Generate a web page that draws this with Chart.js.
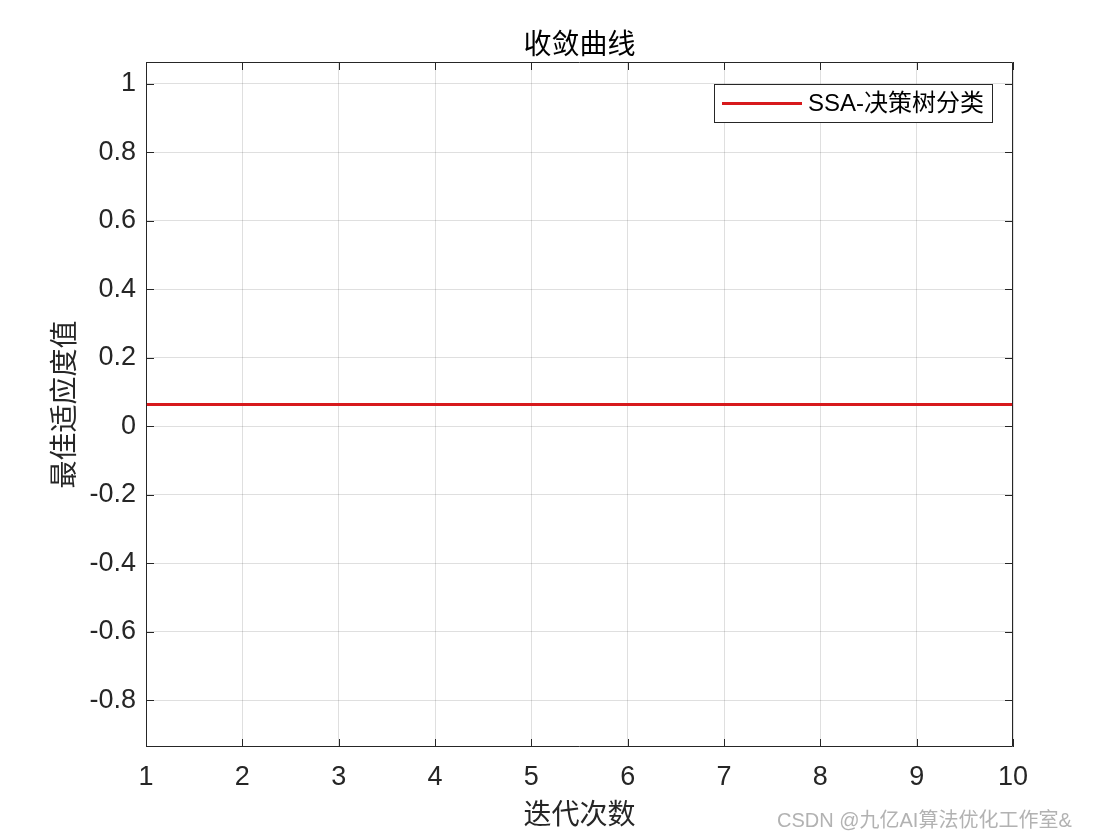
<!DOCTYPE html>
<html>
<head>
<meta charset="utf-8">
<script src="https://cdn.jsdelivr.net/npm/chart.js@4/dist/chart.umd.min.js"></script>
<style>
  body { margin: 0; background: #fff; }
</style>
</head>
<body>
<canvas id="convChart" width="1120" height="840"></canvas>
<script>
// iterations and best fitness per iteration (flat line)
var iterations = [1, 2, 3, 4, 5, 6, 7, 8, 9, 10];
var bestFitness = [0.064, 0.064, 0.064, 0.064, 0.064, 0.064, 0.064, 0.064, 0.064, 0.064];
var yTicks = [-0.8, -0.6, -0.4, -0.2, 0, 0.2, 0.4, 0.6, 0.8, 1];
var xTicks = [1, 2, 3, 4, 5, 6, 7, 8, 9, 10];
var seriesName = 'SSA-决策树分类';
var chartTitle = '收敛曲线';

var textColor = '#262626';
var latin = '"Liberation Sans", Arial, "Noto Sans CJK SC"';
var cjk = '"Noto Sans CJK SC", "Liberation Sans"';

// MATLAB-like box, inward ticks, title, legend and watermark
var matlabBox = {
    id: 'matlabBox',
    afterDraw: function(chart) {
        var c = chart.ctx;
        var a = chart.chartArea;
        var xs = chart.scales.x, ys = chart.scales.y;
        var len = 8;
        c.save();
        c.strokeStyle = textColor;
        c.lineWidth = 1;
        c.beginPath();
        c.rect(a.left + 0.5, a.top + 0.5, a.right - a.left - 1, a.bottom - a.top - 1);
        xTicks.forEach(function(v) {
            var px = Math.round(xs.getPixelForValue(v)) + 0.5;
            c.moveTo(px, a.bottom); c.lineTo(px, a.bottom - len);
            c.moveTo(px, a.top); c.lineTo(px, a.top + len);
        });
        yTicks.forEach(function(v) {
            var py = Math.round(ys.getPixelForValue(v)) + 0.5;
            c.moveTo(a.left, py); c.lineTo(a.left + len, py);
            c.moveTo(a.right, py); c.lineTo(a.right - len, py);
        });
        c.stroke();

        // title over the plot area
        c.fillStyle = '#000';
        c.font = '28px ' + cjk;
        c.textAlign = 'center';
        c.textBaseline = 'middle';
        c.fillText(chartTitle, (a.left + a.right) / 2, 43);

        // legend
        var bx = 714, by = 84, bw = 278, bh = 38;
        c.fillStyle = '#fff';
        c.fillRect(bx, by, bw, bh);
        c.strokeStyle = '#262626';
        c.strokeRect(bx + 0.5, by + 0.5, bw, bh);
        c.strokeStyle = 'rgb(215,25,28)';
        c.lineWidth = 3;
        c.beginPath();
        c.moveTo(722, by + bh / 2 + 0.5);
        c.lineTo(802, by + bh / 2 + 0.5);
        c.stroke();
        c.fillStyle = '#000';
        c.font = '24px ' + latin;
        c.textAlign = 'left';
        c.fillText(seriesName, 808, by + bh / 2 + 1);

        // watermark
        c.font = '20px ' + latin;
        c.fillStyle = 'rgba(170,170,170,0.9)';
        c.fillText('CSDN @九亿AI算法优化工作室&', 777, 821);
        c.restore();
    }
};

var ctx = document.getElementById('convChart').getContext('2d');
var myChart = new Chart(ctx, {
    type: 'line',
    data: {
        labels: iterations,
        datasets: [{
            label: seriesName,
            data: iterations.map(function(x, i) { return { x: x, y: bestFitness[i] }; }),
            borderColor: 'rgb(215,25,28)',
            backgroundColor: 'rgb(215,25,28)',
            borderWidth: 3,
            pointRadius: 0,
            tension: 0
        }]
    },
    options: {
        responsive: false,
        animation: false,
        layout: { padding: { left: 47, right: 107, top: 62, bottom: 10 } },
        plugins: {
            legend: { display: false },
            tooltip: { enabled: false },
            title: { display: false }
        },
        scales: {
            x: {
                type: 'linear',
                min: 1,
                max: 10,
                afterBuildTicks: function(s) { s.ticks = xTicks.map(function(v) { return { value: v }; }); },
                afterFit: function(s) { s.height = 83; },
                grid: { color: 'rgba(38,38,38,0.15)', drawTicks: false },
                border: { display: false },
                ticks: {
                    color: textColor,
                    padding: 14,
                    maxRotation: 0,
                    font: { family: latin, size: 27 }
                },
                title: {
                    display: true,
                    text: '迭代次数',
                    color: textColor,
                    padding: 0,
                    font: { family: cjk, size: 28, lineHeight: 1.2 }
                }
            },
            y: {
                type: 'linear',
                min: -0.936,
                max: 1.064,
                afterBuildTicks: function(s) { s.ticks = yTicks.map(function(v) { return { value: v }; }); },
                afterFit: function(s) { s.width = 99; },
                grid: { color: 'rgba(38,38,38,0.15)', drawTicks: false },
                border: { display: false },
                ticks: {
                    color: textColor,
                    padding: 10,
                    font: { family: latin, size: 27 },
                    callback: function(v) { return String(Number(v.toFixed(1))); }
                },
                title: {
                    display: true,
                    text: '最佳适应度值',
                    color: textColor,
                    padding: 0,
                    font: { family: cjk, size: 28, lineHeight: 1.2 }
                }
            }
        }
    },
    plugins: [matlabBox]
});
</script>
</body>
</html>
